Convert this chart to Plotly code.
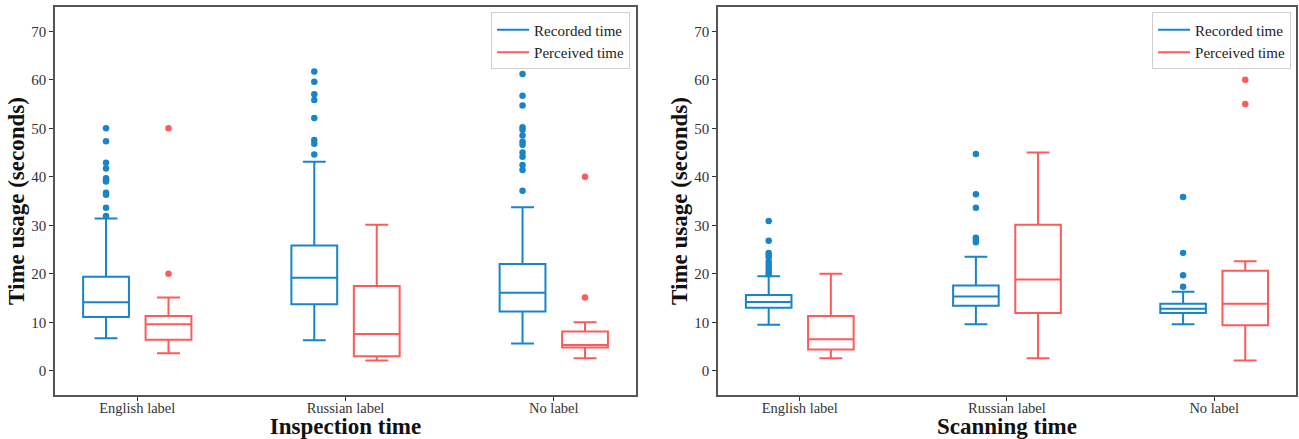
import plotly.graph_objects as go
from plotly.subplots import make_subplots

categories = ["English label", "Russian label", "No label"]
series_names = ["Recorded time", "Perceived time"]

# Inspection time: [q1, median, q3, lower whisker, upper whisker]
insp_rec_q1 = [11.1, 13.7, 12.2]
insp_rec_med = [14.1, 19.2, 16.1]
insp_rec_q3 = [19.4, 25.8, 22.0]
insp_rec_lo = [6.7, 6.3, 5.6]
insp_rec_hi = [31.4, 43.1, 33.7]
insp_rec_out = [
    [50.0, 47.3, 42.9, 41.7, 39.7, 39.3, 39.0, 36.7, 36.3, 33.6, 31.9],
    [61.7, 59.6, 57.0, 55.8, 52.1, 47.6, 46.8, 44.6],
    [61.2, 56.7, 54.7, 50.2, 49.7, 48.5, 47.2, 46.6, 45.0, 44.1, 42.4, 41.4, 37.1],
]
insp_per_q1 = [6.4, 3.0, 4.8]
insp_per_med = [9.6, 7.6, 5.3]
insp_per_q3 = [11.3, 17.5, 8.1]
insp_per_lo = [3.6, 2.1, 2.6]
insp_per_hi = [15.1, 30.1, 10.0]
insp_per_out = [[50.0, 20.0], [], [40.0, 15.1]]

# Scanning time
scan_rec_q1 = [13.0, 13.4, 11.9]
scan_rec_med = [14.2, 15.3, 12.8]
scan_rec_q3 = [15.6, 17.6, 13.8]
scan_rec_lo = [9.5, 9.6, 9.6]
scan_rec_hi = [19.5, 23.5, 16.3]
scan_rec_out = [
    [30.9, 26.8, 24.3, 23.9, 23.4, 22.5, 21.8, 21.1, 20.4, 19.9],
    [44.7, 36.4, 33.6, 27.4, 27.0, 26.5],
    [35.8, 24.3, 19.7, 17.3],
]
scan_per_q1 = [4.4, 11.9, 9.4]
scan_per_med = [6.5, 18.8, 13.8]
scan_per_q3 = [11.3, 30.1, 20.6]
scan_per_lo = [2.6, 2.6, 2.1]
scan_per_hi = [20.0, 45.0, 22.6]
scan_per_out = [[], [], [60.0, 55.0]]

y_ticks = [0, 10, 20, 30, 40, 50, 60, 70]
x_titles = ["Inspection time", "Scanning time"]

BLUE = "#1984c7"
RED = "#ff5a5a"
FONT = "Liberation Serif"
OFFSET = 0.15
BOXW = 0.22

fig = make_subplots(rows=1, cols=2, horizontal_spacing=0.066)

panels = [
    [(insp_rec_q1, insp_rec_med, insp_rec_q3, insp_rec_lo, insp_rec_hi, insp_rec_out),
     (insp_per_q1, insp_per_med, insp_per_q3, insp_per_lo, insp_per_hi, insp_per_out)],
    [(scan_rec_q1, scan_rec_med, scan_rec_q3, scan_rec_lo, scan_rec_hi, scan_rec_out),
     (scan_per_q1, scan_per_med, scan_per_q3, scan_per_lo, scan_per_hi, scan_per_out)],
]
colors = [BLUE, RED]
offsets = [-OFFSET, OFFSET]

for p, panel in enumerate(panels):
    col = p + 1
    for s, (q1, med, q3, lo, hi, out) in enumerate(panel):
        xs = [i + offsets[s] for i in range(len(categories))]
        fig.add_trace(go.Box(
            x=xs, q1=q1, median=med, q3=q3, lowerfence=lo, upperfence=hi,
            width=BOXW, whiskerwidth=0.5, boxpoints=False,
            line=dict(color=colors[s], width=2), fillcolor="rgba(0,0,0,0)",
            showlegend=False, hoverinfo="skip",
        ), row=1, col=col)
        ox, oy = [], []
        for i, vals in enumerate(out):
            for v in vals:
                ox.append(i + offsets[s])
                oy.append(v)
        fig.add_trace(go.Scatter(
            x=ox, y=oy, mode="markers",
            marker=dict(color=colors[s], size=6.5),
            showlegend=False, hoverinfo="skip",
        ), row=1, col=col)
    for s, name in enumerate(series_names):
        fig.add_trace(go.Scatter(
            x=[None], y=[None], mode="lines", name=name,
            line=dict(color=colors[s], width=2),
            legend="legend" if p == 0 else "legend2",
        ), row=1, col=col)

axis_common = dict(
    showgrid=False, zeroline=False, showline=True, linecolor="#555555",
    linewidth=1.5, mirror=True, ticks="outside", ticklen=4, tickcolor="#333333",
)
for c in (1, 2):
    fig.update_xaxes(
        range=[-0.395, 2.395], tickvals=list(range(len(categories))),
        ticktext=categories, ticklabelstandoff=-5,
        tickfont=dict(family=FONT, size=14.5, color="#333333"),
        title=dict(text="<b>" + x_titles[c - 1] + "</b>", standoff=0,
                   font=dict(family=FONT, size=23, color="#111111")),
        row=1, col=c, **axis_common,
    )
    fig.update_yaxes(
        range=[-5, 75], tickvals=y_ticks,
        tickfont=dict(family=FONT, size=15, color="#333333"),
        title=dict(text="<b>Time usage (seconds)</b>", standoff=0,
                   font=dict(family=FONT, size=23, color="#111111")),
        row=1, col=c, **axis_common,
    )

legend_common = dict(
    xanchor="right", yanchor="top", bordercolor="#d0d0d0", borderwidth=1,
    bgcolor="white", font=dict(family=FONT, size=15, color="#222222"),
    tracegroupgap=0, itemwidth=32,
)
fig.update_layout(
    width=1299, height=439,
    margin=dict(l=55, r=1, t=7, b=44),
    plot_bgcolor="white", paper_bgcolor="white",
    legend=dict(x=0.4634, y=0.986, **legend_common),
    legend2=dict(x=0.996, y=0.986, **legend_common),
)
fig.update_xaxes(domain=[0, 0.4682], row=1, col=1)
fig.update_xaxes(domain=[0.5342, 1.0], row=1, col=2)

fig.write_html("out.html")
